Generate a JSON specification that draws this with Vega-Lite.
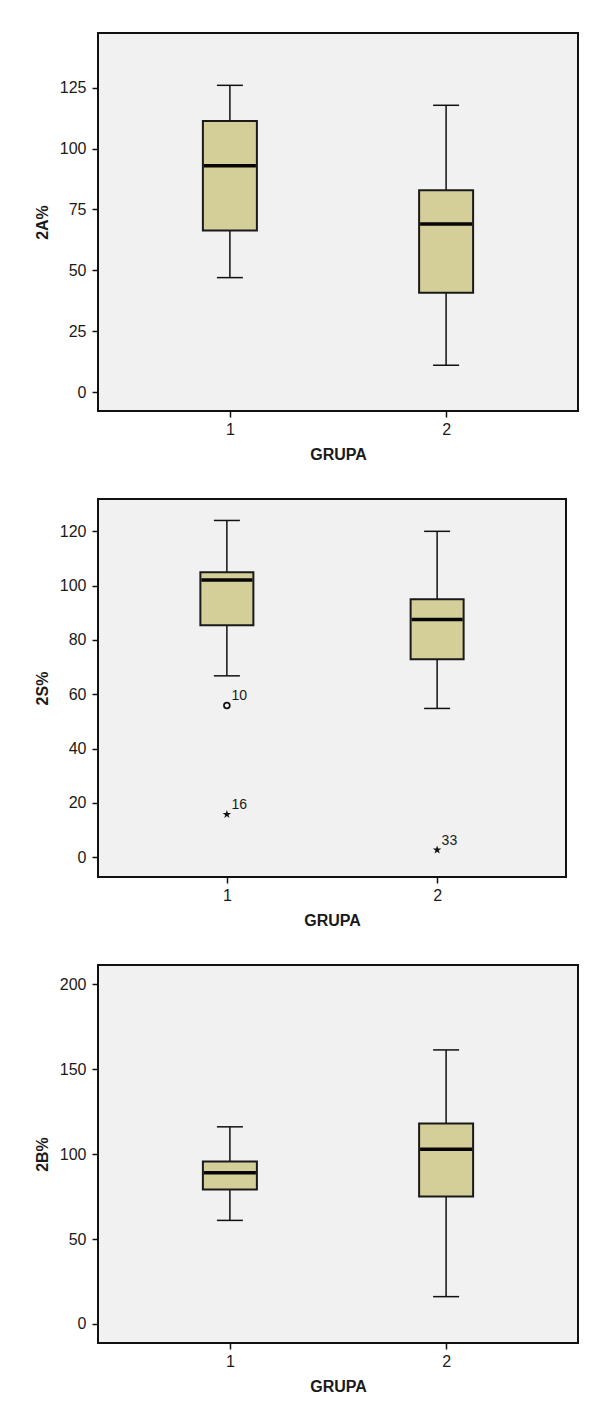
{
  "$schema": "https://vega.github.io/schema/vega-lite/v6.json",
  "padding": {"left": 33, "top": 32, "right": 10, "bottom": 5},
  "background": "white",
  "spacing": 35,
  "datasets": {
    "boxes": [
      {"panel": "A", "grupa": "1", "lo": 126, "q3": 111.3, "med": 93.0, "q1": 66.4, "hi": 47.0},
      {"panel": "A", "grupa": "2", "lo": 117.8, "q3": 82.9, "med": 69.0, "q1": 40.8, "hi": 11.0},
      {"panel": "S", "grupa": "1", "lo": 124, "q3": 104.9, "med": 102.1, "q1": 85.4, "hi": 66.8},
      {"panel": "S", "grupa": "2", "lo": 120, "q3": 95.0, "med": 87.5, "q1": 72.9, "hi": 54.8},
      {"panel": "B", "grupa": "1", "lo": 116.1, "q3": 95.7, "med": 89.0, "q1": 79.2, "hi": 61.0},
      {"panel": "B", "grupa": "2", "lo": 161.4, "q3": 118.0, "med": 102.9, "q1": 75.1, "hi": 16.1}
    ],
    "outliers": [
      {"panel": "S", "grupa": "1", "value": 55.9, "case": "10", "kind": "outlier"},
      {"panel": "S", "grupa": "1", "value": 15.8, "case": "16", "kind": "extreme"},
      {"panel": "S", "grupa": "2", "value": 2.7, "case": "33", "kind": "extreme"}
    ]
  },
  "config": {
    "font": "Liberation Sans",
    "view": {"fill": "#f0f1f0", "stroke": "#111111", "strokeWidth": 2},
    "tick": {"opacity": 1},
    "point": {"opacity": 1},
    "axis": {
      "labelFont": "Liberation Sans",
      "titleFont": "Liberation Sans",
      "labelFontSize": 16,
      "titleFontSize": 16,
      "titleFontWeight": "bold",
      "labelColor": "#1a1a1a",
      "titleColor": "#1a1a1a",
      "tickColor": "#111111",
      "tickWidth": 1.5,
      "tickSize": 6,
      "domain": false,
      "grid": false
    },
    "axisX": {"labelPadding": 4, "titlePadding": 9, "labelAngle": 0},
    "axisY": {"labelPadding": 6, "titlePadding": 9}
  },
  "vconcat": [
    {
      "width": 480,
      "height": 378,
      "data": {"name": "boxes"},
      "transform": [{"filter": "datum.panel === 'A'"}],
      "encoding": {
        "x": {"field": "grupa", "type": "ordinal", "scale": {"type": "point", "padding": 0.61}, "title": "GRUPA"}
      },
      "layer": [
        {"mark": {"type": "rule", "color": "#111111", "strokeWidth": 1.5},
         "encoding": {"y": {"field": "lo", "type": "quantitative", "scale": {"domain": [-7.8, 147.5], "nice": false, "zero": false}, "axis": {"values": [0, 25, 50, 75, 100, 125]}, "title": "2A%"}, "y2": {"field": "hi"}}},
        {"mark": {"type": "tick", "orient": "horizontal", "color": "#111111", "opacity": 1, "size": 26, "thickness": 1.5}, "encoding": {"y": {"field": "lo", "type": "quantitative"}}},
        {"mark": {"type": "tick", "orient": "horizontal", "color": "#111111", "opacity": 1, "size": 26, "thickness": 1.5}, "encoding": {"y": {"field": "hi", "type": "quantitative"}}},
        {"mark": {"type": "bar", "width": 54, "fill": "#d4cf98", "stroke": "#1a1a1a", "strokeWidth": 2}, "encoding": {"y": {"field": "q1", "type": "quantitative"}, "y2": {"field": "q3"}}},
        {"mark": {"type": "tick", "orient": "horizontal", "color": "#050505", "opacity": 1, "size": 52, "thickness": 3.5}, "encoding": {"y": {"field": "med", "type": "quantitative"}}}
      ]
    },
    {
      "width": 468,
      "height": 378,
      "encoding": {
        "x": {"field": "grupa", "type": "ordinal", "scale": {"type": "point", "padding": 0.613, "domain": ["1", "2"]}, "title": "GRUPA"}
      },
      "layer": [
        {
          "data": {"name": "boxes"},
          "transform": [{"filter": "datum.panel === 'S'"}],
          "layer": [
            {"mark": {"type": "rule", "color": "#111111", "strokeWidth": 1.5},
             "encoding": {"y": {"field": "lo", "type": "quantitative", "scale": {"domain": [-7.25, 131.9], "nice": false, "zero": false}, "axis": {"values": [0, 20, 40, 60, 80, 100, 120]}, "title": "2S%"}, "y2": {"field": "hi"}}},
            {"mark": {"type": "tick", "orient": "horizontal", "color": "#111111", "opacity": 1, "size": 26, "thickness": 1.5}, "encoding": {"y": {"field": "lo", "type": "quantitative"}}},
            {"mark": {"type": "tick", "orient": "horizontal", "color": "#111111", "opacity": 1, "size": 26, "thickness": 1.5}, "encoding": {"y": {"field": "hi", "type": "quantitative"}}},
            {"mark": {"type": "bar", "width": 53, "fill": "#d4cf98", "stroke": "#1a1a1a", "strokeWidth": 2}, "encoding": {"y": {"field": "q1", "type": "quantitative"}, "y2": {"field": "q3"}}},
            {"mark": {"type": "tick", "orient": "horizontal", "color": "#050505", "opacity": 1, "size": 51, "thickness": 3.5}, "encoding": {"y": {"field": "med", "type": "quantitative"}}}
          ]
        },
        {
          "data": {"name": "outliers"},
          "transform": [{"filter": "datum.kind === 'outlier'"}],
          "mark": {"type": "point", "shape": "circle", "filled": false, "size": 34, "stroke": "#111111", "strokeWidth": 1.7, "opacity": 1},
          "encoding": {"y": {"field": "value", "type": "quantitative"}}
        },
        {
          "data": {"name": "outliers"},
          "transform": [{"filter": "datum.kind === 'extreme'"}],
          "mark": {"type": "point", "shape": "M0,-1L0.2245,-0.309L0.951,-0.309L0.363,0.118L0.588,0.809L0,0.382L-0.588,0.809L-0.363,0.118L-0.951,-0.309L-0.2245,-0.309Z", "filled": true, "size": 80, "fill": "#111111", "opacity": 1},
          "encoding": {"y": {"field": "value", "type": "quantitative"}}
        },
        {
          "data": {"name": "outliers"},
          "mark": {"type": "text", "align": "left", "baseline": "alphabetic", "dx": 4.5, "dy": -5, "fontSize": 14, "font": "Liberation Sans", "color": "#1a1a1a"},
          "encoding": {"y": {"field": "value", "type": "quantitative"}, "text": {"field": "case"}}
        }
      ]
    },
    {
      "width": 480,
      "height": 378,
      "data": {"name": "boxes"},
      "transform": [{"filter": "datum.panel === 'B'"}],
      "encoding": {
        "x": {"field": "grupa", "type": "ordinal", "scale": {"type": "point", "padding": 0.61}, "title": "GRUPA"}
      },
      "layer": [
        {"mark": {"type": "rule", "color": "#111111", "strokeWidth": 1.5},
         "encoding": {"y": {"field": "lo", "type": "quantitative", "scale": {"domain": [-11.2, 211.4], "nice": false, "zero": false}, "axis": {"values": [0, 50, 100, 150, 200]}, "title": "2B%"}, "y2": {"field": "hi"}}},
        {"mark": {"type": "tick", "orient": "horizontal", "color": "#111111", "opacity": 1, "size": 26, "thickness": 1.5}, "encoding": {"y": {"field": "lo", "type": "quantitative"}}},
        {"mark": {"type": "tick", "orient": "horizontal", "color": "#111111", "opacity": 1, "size": 26, "thickness": 1.5}, "encoding": {"y": {"field": "hi", "type": "quantitative"}}},
        {"mark": {"type": "bar", "width": 54, "fill": "#d4cf98", "stroke": "#1a1a1a", "strokeWidth": 2}, "encoding": {"y": {"field": "q1", "type": "quantitative"}, "y2": {"field": "q3"}}},
        {"mark": {"type": "tick", "orient": "horizontal", "color": "#050505", "opacity": 1, "size": 52, "thickness": 3.5}, "encoding": {"y": {"field": "med", "type": "quantitative"}}}
      ]
    }
  ]
}
